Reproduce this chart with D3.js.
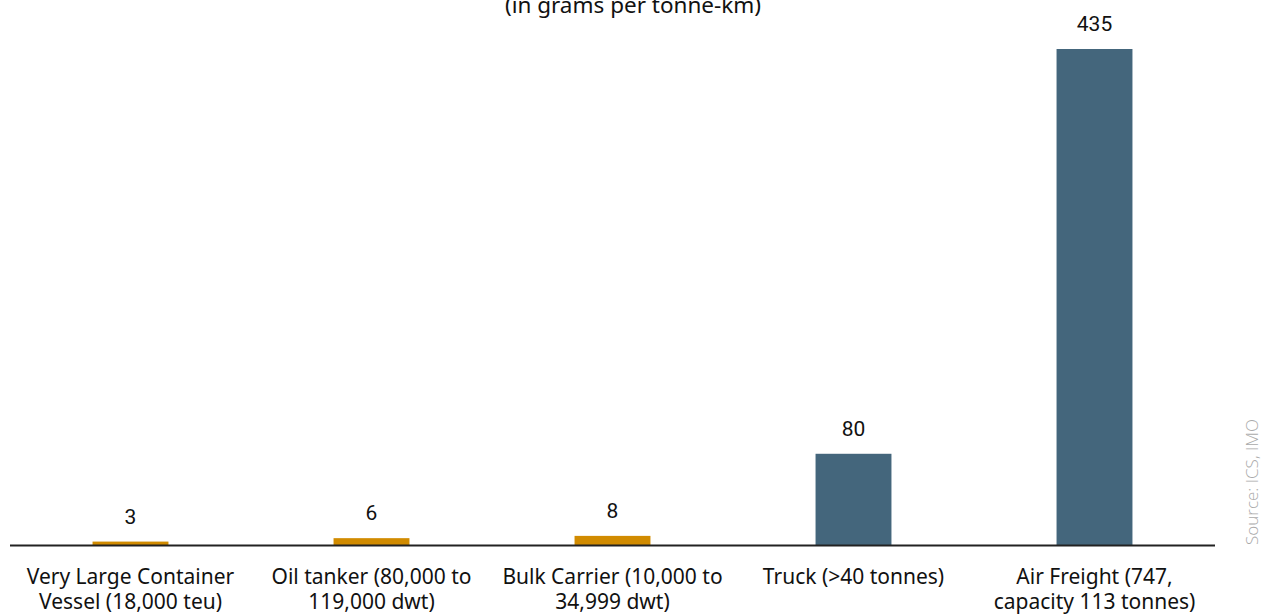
<!DOCTYPE html>
<html lang="en">
<head>
    <meta charset="UTF-8">
    <title>CO2 emissions by transport mode</title>
    <script src="https://d3js.org/d3.v7.min.js"></script>
    <style>
        body { margin: 0; background: #fff; font-family: "Noto Sans", "Open Sans", sans-serif; }
        .cat { font-size: 21px; fill: #111; }
        .title { font-size: 22.5px; fill: #111; }
        .val { font-family: Roboto, "Liberation Sans", sans-serif; font-size: 21px; fill: #111; }
        .source { font-family: "Open Sans", "Noto Sans", sans-serif; font-weight: 300; font-size: 17px; fill: #aaaaaa; }
    </style>
</head>
<body>
    <svg id="chart" width="1263" height="615"></svg>
    <script>
        const categories = [
            ["Very Large Container", "Vessel (18,000 teu)"],
            ["Oil tanker (80,000 to", "119,000 dwt)"],
            ["Bulk Carrier (10,000 to", "34,999 dwt)"],
            ["Truck (>40 tonnes)"],
            ["Air Freight (747,", "capacity 113 tonnes)"]
        ];
        const values = [3, 6, 8, 80, 435];
        const kinds = ["sea", "sea", "sea", "other", "other"];

        const svg = d3.select("#chart");
        const left = 10, right = 1215, base = 545;

        const x = d3.scaleBand()
            .domain(d3.range(values.length))
            .range([left, right])
            .paddingInner(0.685)
            .paddingOuter(0.3425);

        const y = d3.scaleLinear().domain([0, 435]).range([base, 49]);

        const color = d3.scaleOrdinal().domain(["sea", "other"]).range(["#d18b00", "#44667c"]);

        // title (cut off at top in original)
        svg.append("text")
            .attr("class", "title")
            .attr("x", 633).attr("y", 13)
            .attr("text-anchor", "middle")
            .text("(in grams per tonne-km)");

        svg.append("g").selectAll("rect")
            .data(values)
            .join("rect")
            .attr("x", (d, i) => x(i))
            .attr("width", x.bandwidth())
            .attr("y", d => y(d))
            .attr("height", d => base - y(d))
            .attr("fill", (d, i) => color(kinds[i]));

        svg.append("g").selectAll("text")
            .data(values)
            .join("text")
            .attr("class", "val")
            .attr("x", (d, i) => x(i) + x.bandwidth() / 2)
            .attr("y", d => y(d) - 18)
            .attr("text-anchor", "middle")
            .text(d => d);

        // baseline
        svg.append("line")
            .attr("x1", left).attr("x2", right)
            .attr("y1", base + 0.5).attr("y2", base + 0.5)
            .attr("stroke", "#222").attr("stroke-width", 2);

        const labels = svg.append("g").selectAll("text")
            .data(categories)
            .join("text")
            .attr("class", "cat")
            .attr("text-anchor", "middle")
            .attr("x", (d, i) => x(i) + x.bandwidth() / 2)
            .attr("y", 584);
        labels.selectAll("tspan")
            .data(d => d)
            .join("tspan")
            .attr("x", function () { return d3.select(this.parentNode).attr("x"); })
            .attr("dy", (d, i) => i === 0 ? 0 : 25)
            .text(d => d);

        svg.append("text")
            .attr("class", "source")
            .attr("transform", "translate(1258,545) rotate(-90)")
            .text("Source: ICS, IMO");
    </script>
</body>
</html>
